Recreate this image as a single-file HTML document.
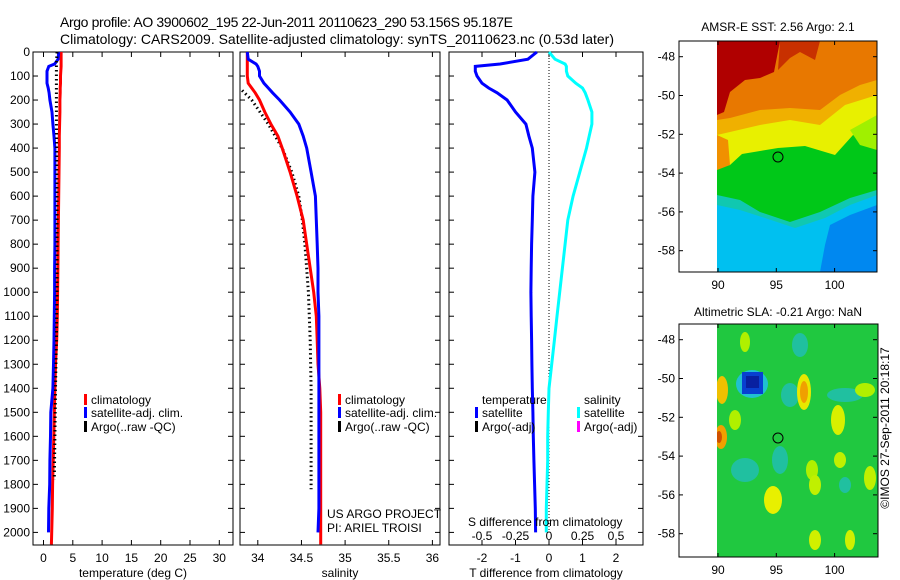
<!DOCTYPE html>
<html><head><meta charset="utf-8"><style>
html,body{margin:0;padding:0;background:#fff;}
svg{display:block;font-family:"Liberation Sans",sans-serif;}
</style></head><body>
<svg id="fig" width="900" height="580" viewBox="0 0 900 580" xmlns="http://www.w3.org/2000/svg">
<rect width="900" height="580" fill="#fff"/>
<text x="60" y="27" font-size="14" textLength="453">Argo profile: AO 3900602_195 22-Jun-2011 20110623_290 53.156S 95.187E</text>
<text x="60" y="44" font-size="14" textLength="554">Climatology: CARS2009. Satellite-adjusted climatology: synTS_20110623.nc (0.53d later)</text>
<g id="p1"></g>
<g id="p2"></g>
<g id="p3"></g>

<!-- SST map -->
<g>
<text x="778" y="31" font-size="12" text-anchor="middle">AMSR-E SST: 2.56 Argo: 2.1</text>
<svg x="717" y="41" width="160" height="231" viewBox="717 41 160 231" overflow="hidden">
<rect x="717" y="41" width="160" height="231" fill="#00c0f0"/>
<polygon fill="#0088f0" points="830,225 850,215 877,205 877,272 820,272 825,245"/>
<polygon fill="#10c8b0" points="717,41 877,41 877,195 850,205 825,218 795,228 765,218 740,210 717,205"/>
<polygon fill="#00c818" points="717,41 877,41 877,190 850,198 820,212 790,222 760,212 740,200 717,195"/>
<polygon fill="#e8f000" points="717,41 877,41 877,150 866,140 853,135 835,155 805,146 778,148 742,154 730,165 717,168"/>
<polygon fill="#f0b000" points="717,41 877,41 877,95 845,105 820,125 790,120 760,125 730,132 717,135"/>
<polygon fill="#e87800" points="717,41 877,41 877,80 860,85 840,95 820,110 790,108 760,110 730,118 717,120"/>
<polygon fill="#b00000" points="717,41 780,41 774,72 760,78 745,80 730,92 724,112 717,115"/>
<polygon fill="#c83000" points="780,41 820,41 815,60 800,52 790,58 778,70"/>
<polygon fill="#f09000" points="717,135 728,140 730,165 717,170"/>
<polygon fill="#a0f000" points="850,130 877,115 877,150 860,145"/>
</svg>
<rect x="679" y="41" width="198" height="231" fill="none" stroke="#000"/>
<circle cx="778" cy="157" r="5" fill="none" stroke="#000"/>
<g id="m1ticks" font-size="12"></g>
</g>

<!-- SLA map -->
<g>
<text x="778" y="316" font-size="12" text-anchor="middle">Altimetric SLA: -0.21 Argo: NaN</text>
<svg x="717" y="324" width="161" height="233" viewBox="717 324 161 233" overflow="hidden">
<rect x="717" y="324" width="161" height="233" fill="#20c840"/>
<ellipse cx="745" cy="470" rx="14" ry="12" fill="#20c0a0"/>
<ellipse cx="800" cy="345" rx="8" ry="12" fill="#20c0a0"/>
<ellipse cx="790" cy="395" rx="9" ry="12" fill="#20c0a0"/>
<ellipse cx="780" cy="460" rx="8" ry="14" fill="#20c0a0"/>
<ellipse cx="845" cy="395" rx="18" ry="7" fill="#20c0a0"/>
<ellipse cx="845" cy="485" rx="6" ry="8" fill="#20c0a0"/>
<ellipse cx="752" cy="384" rx="16" ry="14" fill="#20c0d0"/>
<rect x="742" y="372" width="21" height="22" fill="#0840d0"/>
<rect x="746" y="376" width="13" height="12" fill="#0820a0"/>
<ellipse cx="804" cy="392" rx="7" ry="18" fill="#e8e800"/>
<ellipse cx="804" cy="392" rx="4" ry="11" fill="#f0a000"/>
<ellipse cx="838" cy="420" rx="7" ry="15" fill="#d8f000"/>
<ellipse cx="722" cy="390" rx="6" ry="14" fill="#f0c000"/>
<ellipse cx="721" cy="437" rx="6" ry="12" fill="#f0a000"/>
<ellipse cx="719" cy="437" rx="3" ry="6" fill="#d05000"/>
<ellipse cx="735" cy="420" rx="6" ry="10" fill="#b0f000"/>
<ellipse cx="773" cy="500" rx="9" ry="14" fill="#e8f000"/>
<ellipse cx="812" cy="470" rx="6" ry="10" fill="#b0f000"/>
<ellipse cx="815" cy="485" rx="6" ry="10" fill="#c0f000"/>
<ellipse cx="840" cy="460" rx="6" ry="8" fill="#c0f000"/>
<ellipse cx="815" cy="540" rx="6" ry="10" fill="#d0f000"/>
<ellipse cx="850" cy="540" rx="5" ry="10" fill="#d0f000"/>
<ellipse cx="865" cy="390" rx="10" ry="7" fill="#b0f000"/>
<ellipse cx="870" cy="478" rx="6" ry="12" fill="#c0f000"/>
<ellipse cx="745" cy="342" rx="5" ry="10" fill="#b0f000"/>
</svg>
<rect x="679" y="324" width="199" height="233" fill="none" stroke="#000"/>
<circle cx="778" cy="438" r="5" fill="none" stroke="#000"/>
<g id="m2ticks" font-size="12"></g>
</g>
<text transform="translate(889,428) rotate(-90)" font-size="12" text-anchor="middle">©IMOS 27-Sep-2011 20:18:17</text>
</svg>
<script>
// ---- data ----
const depths = [0,30,50,60,80,100,130,150,170,200,250,300,350,400,500,600,700,800,900,1000,1100,1200,1300,1400,1500,1600,1700,1800,1900,2000,2050];
const tClim = [3.0,3.0,3.0,3.0,2.95,2.9,2.9,2.85,2.85,2.8,2.8,2.75,2.7,2.7,2.65,2.6,2.55,2.5,2.45,2.4,2.35,2.25,2.05,1.95,1.85,1.75,1.65,1.55,1.5,1.4,1.35];
const tSat = [2.6,2.5,1.9,0.9,0.6,0.6,0.6,0.8,0.95,1.1,1.45,1.6,1.8,1.95,1.95,1.95,1.95,1.95,1.9,1.9,1.85,1.8,1.7,1.6,1.25,1.2,1.1,1.05,0.9,0.85,null];
const argoTDepths = [0,50,100,200,300,400,600,800,1000,1200,1400,1600,1780];
const tArgo = [2.3,2.2,2.2,2.2,2.2,2.25,2.3,2.3,2.3,2.2,2.05,1.95,1.85];
const sClim = [33.88,33.88,33.88,33.88,33.88,33.88,33.89,33.93,33.97,34.02,34.08,34.15,34.23,34.28,34.37,34.45,34.52,34.56,34.6,34.64,34.67,34.68,34.69,34.71,34.72,34.72,34.72,34.72,34.72,34.72,34.72];
const sSat = [33.88,33.89,33.98,34.0,34.02,34.02,34.07,34.12,34.17,34.25,34.37,34.47,34.52,34.56,34.61,34.66,34.67,34.68,34.69,34.69,34.7,34.7,34.7,34.7,34.7,34.7,34.7,34.7,34.7,34.69,null];
const argoSDepths = [160,200,300,400,500,600,700,800,1000,1200,1400,1600,1820];
const sArgo = [33.82,33.93,34.12,34.28,34.39,34.47,34.51,34.54,34.58,34.6,34.61,34.61,34.61];
const tDiff = [-0.36,-0.63,-1.46,-2.2,-2.2,-2.15,-2.0,-1.8,-1.55,-1.25,-1.0,-0.69,-0.6,-0.5,-0.42,-0.48,-0.5,-0.52,-0.53,-0.54,-0.53,-0.52,-0.51,-0.5,-0.48,-0.47,-0.45,-0.43,-0.41,-0.4,null];
const sDiff = [0,0.045,0.12,0.13,0.13,0.14,0.2,0.25,0.27,0.29,0.32,0.32,0.3,0.28,0.23,0.18,0.14,0.12,0.1,0.08,0.06,0.04,0.02,0,-0.005,-0.01,-0.01,-0.015,-0.02,-0.02,null];
const depthTicks = [0,100,200,300,400,500,600,700,800,900,1000,1100,1200,1300,1400,1500,1600,1700,1800,1900,2000];
const tTicks = [0,5,10,15,20,25,30];
const sTicks = [34,34.5,35,35.5,36];
const sTickLabels = ["34","34.5","35","35.5","36"];
const dTTicks = [-2,-1,0,1,2];
const dSTicks = [-0.5,-0.25,0,0.25,0.5];
const dSTickLabels = ["-0.5","-0.25","0","0.25","0.5"];
const latTicks = [-48,-50,-52,-54,-56,-58];
const lonTicks = [90,95,100];

// ---- scales ----
const TOP=52, BOT=545;
const yD = d => TOP + d*0.2402;
const xT = t => 43.5 + t*5.86;
const xS = s => 257.8 + (s-34)*87.3;
const xDT = v => 549 + v*33.5;
const xDS = v => 549 + v*134;
const NS="http://www.w3.org/2000/svg";
function mk(tag, parent, attrs){const e=document.createElementNS(NS,tag);for(const k in attrs)e.setAttribute(k,attrs[k]);parent.appendChild(e);return e;}
function txt(parent, x, y, s, anchor, size){const e=mk('text',parent,{x:x,y:y,'font-size':size||12,'text-anchor':anchor||'start'});e.textContent=s;return e;}
function line(parent, xs, ds, xf, color, dash){
  let pts=[];for(let i=0;i<xs.length;i++){if(xs[i]===null||xs[i]===undefined)continue;pts.push(xf(xs[i]).toFixed(1)+','+yD(ds[i]).toFixed(1));}
  const a={points:pts.join(' '),fill:'none',stroke:color,'stroke-width':3,'stroke-linejoin':'miter'};
  if(dash){a['stroke-dasharray']='1.5 3';a['stroke-width']=3;}
  return mk('polyline',parent,a);
}
function box(parent,x0,x1){mk('rect',parent,{x:x0,y:TOP,width:x1-x0,height:BOT-TOP,fill:'none',stroke:'#000','stroke-width':1});}
function yticks(parent,x0,x1,labels){
  depthTicks.forEach(d=>{const y=yD(d);mk('line',parent,{x1:x0,y1:y,x2:x0+5,y2:y,stroke:'#000'});mk('line',parent,{x1:x1,y1:y,x2:x1-5,y2:y,stroke:'#000'});
    if(labels)txt(parent,x0-3,y+4,String(d),'end');});
}
function xticks(parent,vals,labels,xf,ly){
  vals.forEach((v,i)=>{const x=xf(v);mk('line',parent,{x1:x,y1:BOT,x2:x,y2:BOT-5,stroke:'#000'});mk('line',parent,{x1:x,y1:TOP,x2:x,y2:TOP+5,stroke:'#000'});
    if(labels)txt(parent,x,ly,labels[i],'middle');});
}
function legend(parent,x,y,color,label){
  mk('rect',parent,{x:x,y:y-6,width:3,height:11,fill:color});
  txt(parent,x+7,y+4,label);
}

// Panel 1
const p1=document.getElementById('p1');
box(p1,33,233); yticks(p1,33,233,true);
xticks(p1,tTicks,tTicks.map(String),xT,562);
txt(p1,133,577,'temperature (deg C)','middle');
const l1a=line(p1,tClim,depths,xT,'#ff0000');


const l1b=line(p1,tSat,depths,xT,'#0000ff');


const l1c=line(p1,tArgo,argoTDepths,xT,'#000',true);


legend(p1,84,400,'#ff0000','climatology');
legend(p1,84,413,'#0000ff','satellite-adj. clim.');
legend(p1,84,427,'#000','Argo(..raw -QC)');

// Panel 2
const p2=document.getElementById('p2');
box(p2,240,440); yticks(p2,240,440,false);
xticks(p2,sTicks,sTickLabels,xS,562);
txt(p2,340,577,'salinity','middle');
const l2c=line(p2,sArgo,argoSDepths,xS,'#000',true);


const l2a=line(p2,sClim,depths,xS,'#ff0000');


const l2b=line(p2,sSat,depths,xS,'#0000ff');


legend(p2,338,400,'#ff0000','climatology');
legend(p2,338,413,'#0000ff','satellite-adj. clim.');
legend(p2,338,427,'#000','Argo(..raw -QC)');
txt(p2,327,518,'US ARGO PROJECT');
txt(p2,327,532,'PI: ARIEL TROISI');

// Panel 3
const p3=document.getElementById('p3');
box(p3,449,643); yticks(p3,449,643,false);
xticks(p3,dTTicks,dTTicks.map(String),xDT,562);
txt(p3,546,577,'T difference from climatology','middle');
mk('line',p3,{x1:549,y1:yD(0),x2:549,y2:yD(2000),stroke:'#000','stroke-dasharray':'1 2'});
const l3a=line(p3,tDiff,depths,xDT,'#0000ff');


const l3b=line(p3,sDiff,depths,xDS,'#00ffff');


txt(p3,482,404,'temperature');
legend(p3,475,413,'#0000ff','satellite');
legend(p3,475,427,'#000','Argo(-adj)');
txt(p3,584,404,'salinity');
legend(p3,577,413,'#00ffff','satellite');
legend(p3,577,427,'#ff00ff','Argo(-adj)');
txt(p3,468,526,'S difference from climatology');
dSTicks.forEach((v,i)=>txt(p3,xDS(v),540,dSTickLabels[i],'middle'));

// Map ticks
function mapTicks(id,top,bot){
  const g=document.getElementById(id);
  const yL=lat=>top+15.7+(-48-lat)*19.4;
  latTicks.forEach(l=>{const y=yL(l);mk('line',g,{x1:679,y1:y,x2:683,y2:y,stroke:'#000'});mk('line',g,{x1:877,y1:y,x2:873,y2:y,stroke:'#000'});txt(g,675,y+4,String(l),'end');});
  const xL=lon=>718+(lon-90)*11.66;
  lonTicks.forEach(l=>{const x=xL(l);mk('line',g,{x1:x,y1:bot,x2:x,y2:bot-4,stroke:'#000'});mk('line',g,{x1:x,y1:top,x2:x,y2:top+4,stroke:'#000'});txt(g,x,bot+17,String(l),'middle');});
}
mapTicks('m1ticks',41,272);
mapTicks('m2ticks',324,557);
</script>
</body></html>
